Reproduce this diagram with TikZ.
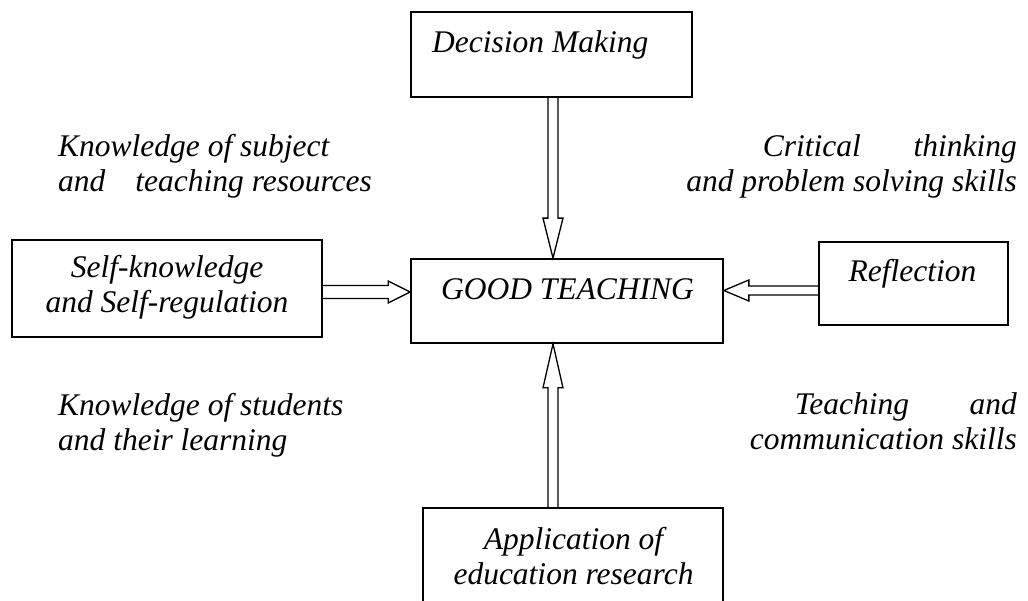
\documentclass[tikz,border=0pt]{standalone}
\usepackage{fontspec}
\setmainfont{Liberation Serif}
\usetikzlibrary{calc}
\newcommand\txtfont{\fontsize{31.5}{35}\selectfont\itshape}
\tikzset{
  box/.style={draw, line width=1.7pt, inner sep=0pt, rectangle},
  lbl/.style={inner sep=0pt, font=\txtfont},
  fat/.style={draw, line width=1.3pt, line join=miter},
}
% #1 start, #2 tip, #3 shaft half width, #4 head half width, #5 head length, #6 name
\newcommand\fatarrow[6]{%
  \coordinate (#6c) at ($(#2)!#5!(#1)$);
  \draw[fat] ($(#1)!#3!90:(#2)$) -- ($(#6c)!#3!-90:(#1)$) -- ($(#6c)!#4!-90:(#1)$)
    -- (#2) -- ($(#6c)!#4!90:(#1)$) -- ($(#6c)!#3!90:(#1)$) -- ($(#1)!#3!-90:(#2)$);
}
\begin{document}
\begin{tikzpicture}[x=1pt,y=-1pt]
\clip (0,0) rectangle (1028,601);
\fill[white] (0,0) rectangle (1028,601);
% boxes
\node[box, minimum width=281pt, minimum height=85pt] (dm) at (551.5,54.5) {};
\node[box, minimum width=312pt, minimum height=84pt] (gt) at (567,301) {};
\node[box, minimum width=310pt, minimum height=97pt] (sk) at (167,288.5) {};
\node[box, minimum width=189pt, minimum height=83pt] (rf) at (913.5,283.5) {};
\node[box, minimum width=300pt, minimum height=120pt] (ap) at (573,568) {};
% box texts (base anchor = baseline of last line)
\node[lbl, anchor=base west] (dmt) at (432,53) {Decision Making};
\node[lbl, anchor=base] (gtt) at (567.5,300) {GOOD TEACHING};
\node[lbl, anchor=base] (rft) at (912.5,282) {Reflection};
\node[lbl, anchor=base, align=center] (skt) at (167,313) {Self-knowledge\\and Self-regulation};
\node[lbl, anchor=base, align=center] (apt) at (573.5,584) {Application of\\education research};
% free texts
\node[lbl, anchor=base west, align=left] (k1) at (58,192) {Knowledge of subject\\and\hspace*{30pt}teaching resources};
\node[lbl, anchor=base east, align=right] (k2) at (1017,192) {\makebox[254pt][s]{Critical\hfill thinking}\\and problem solving skills};
\node[lbl, anchor=base west, align=left] (k3) at (58,450) {Knowledge of students\\and their learning};
\node[lbl, anchor=base east, align=right] (k4) at (1017,449) {\makebox[222pt][s]{Teaching\hfill and}\\communication skills};
% arrow axes
\coordinate (vax) at (553,0);
\coordinate (lax) at (0,292);
\coordinate (rax) at (0,290.5);
\coordinate (ta) at (dm.south -| vax);
\coordinate (tb) at (gt.north -| vax);
\coordinate (ba) at (ap.north -| vax);
\coordinate (bb) at (gt.south -| vax);
\coordinate (la) at (sk.east |- lax);
\coordinate (lb) at (gt.west |- lax);
\coordinate (ra) at (rf.west |- rax);
\coordinate (rb) at (gt.east |- rax);
\fatarrow{ta}{tb}{5pt}{10pt}{40pt}{t}
\fatarrow{ba}{bb}{5pt}{10pt}{44pt}{b}
\fatarrow{la}{lb}{6.5pt}{11pt}{22pt}{l}
\fatarrow{ra}{rb}{4.5pt}{10.5pt}{25pt}{r}
\end{tikzpicture}
\end{document}
